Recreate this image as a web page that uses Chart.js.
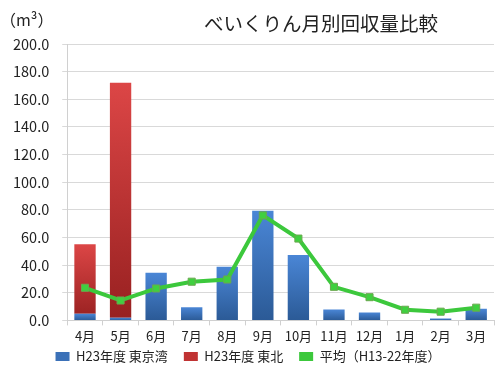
<!DOCTYPE html>
<html><head><meta charset="utf-8">
<script src="https://cdn.jsdelivr.net/npm/chart.js@4/dist/chart.umd.min.js"></script>
<style>html,body{margin:0;padding:0;background:#fff}#wrap{width:500px;height:369px}</style>
</head><body><div id="wrap"><canvas id="c" width="500" height="369"></canvas></div>
<script>
const categories = ['4月','5月','6月','7月','8月','9月','10月','11月','12月','1月','2月','3月'];
const tokyoBay = [4.8, 2.0, 34.4, 9.6, 38.8, 79.4, 47.4, 7.9, 5.8, 0, 1.4, 8.4];
const tohoku = [50.3, 170.0, 0, 0, 0, 0, 0, 0, 0, 0, 0, 0];
const average = [23.6, 14.4, 23.1, 28.0, 29.6, 76.0, 59.2, 24.3, 16.8, 7.7, 6.3, 9.2];
const yTicks = [0, 20, 40, 60, 80, 100, 120, 140, 160, 180, 200];
const FONT = '"Noto Sans CJK JP", "Noto Sans", sans-serif';
const LEGEND_PAD = 16;

function barGrad(ctx, c1, c2, fallback, topArr, baseArr) {
  const chart = ctx.chart;
  const ys = chart.scales && chart.scales.y;
  if (!chart.chartArea || !ys || ctx.dataIndex === undefined) return fallback;
  const i = ctx.dataIndex;
  const base = baseArr ? baseArr[i] : 0;
  const top = ys.getPixelForValue(base + topArr[i]);
  const bot = ys.getPixelForValue(0);
  if (!(bot - top > 1)) return fallback;
  const g = chart.ctx.createLinearGradient(0, top, 0, bot);
  g.addColorStop(0, c1); g.addColorStop(1, c2);
  return g;
}

const titlePlugin = {
  id: 'titles',
  afterDraw(chart) {
    const c = chart.ctx;
    c.save();
    c.fillStyle = '#222';
    c.textBaseline = 'middle';
    c.font = '19.5px ' + FONT;
    c.textAlign = 'center';
    c.fillText('べいくりん月別回収量比較', 321, 24);
    c.font = '16px ' + FONT;
    c.textAlign = 'left';
    c.fillText('（m³）', 0, 20);
    c.restore();
  }
};

const legendFix = {
  id: 'legendFix',
  afterInit(chart) {
    const lg = chart.legend;
    if (!lg) return;
    const f = lg.fit;
    lg.fit = function () { f.call(this); this.height = 22; };
  },
  afterLayout(chart) {
    const lg = chart.legend;
    if (!lg) return;
    lg.top -= (LEGEND_PAD - 3);
  }
};

new Chart(document.getElementById('c'), {
  data: {
    labels: categories,
    datasets: [
      { type: 'bar', label: 'H23年度 東京湾', data: tokyoBay, stack: 'a', order: 1,
        backgroundColor: ctx => barGrad(ctx, '#4a86d6', '#2b5a96', '#3b71b8', tokyoBay, null),
        borderWidth: 0, barPercentage: 0.6, categoryPercentage: 1 },
      { type: 'bar', label: 'H23年度 東北', data: tohoku, stack: 'a', order: 1,
        backgroundColor: ctx => barGrad(ctx, '#dc4646', '#972020', '#c03333', tohoku, tokyoBay),
        borderWidth: 0, barPercentage: 0.6, categoryPercentage: 1 },
      { type: 'line', label: '平均（H13-22年度）', data: average, stack: 'avg', order: 0,
        borderColor: '#3cc83c', backgroundColor: '#3cc83c', borderWidth: 4,
        pointStyle: 'rect', pointRadius: 5, pointBackgroundColor: '#3fd03f', pointBorderColor: '#6aa84f', pointBorderWidth: 1,
        tension: 0 }
    ]
  },
  options: {
    responsive: false,
    animation: false,
    layout: { padding: { left: 0, right: 4, top: 44, bottom: 0 } },
    scales: {
      x: {
        stacked: true,
        grid: { display: true, drawOnChartArea: false, offset: true, tickLength: 5, color: '#d0d0d0' },
        border: { color: '#d0d0d0' },
        ticks: { color: '#222', font: { family: FONT, size: 13 }, padding: 3, maxRotation: 0, autoSkip: false }
      },
      y: {
        stacked: true,
        min: 0, max: 200,
        afterBuildTicks(axis) { axis.ticks = yTicks.map(v => ({ value: v })); },
        grid: { color: '#d9d9d9', tickLength: 5 },
        border: { color: '#d0d0d0' },
        ticks: { color: '#222', font: { family: FONT, size: 14.5 }, padding: 13, callback: v => Number(v).toFixed(1) }
      }
    },
    plugins: {
      title: { display: false },
      tooltip: { enabled: false },
      legend: {
        position: 'bottom',
        labels: { font: { family: FONT, size: 13 }, color: '#222', boxWidth: 14, boxHeight: 9, padding: LEGEND_PAD,
          sort: (a, b) => a.datasetIndex - b.datasetIndex,
          generateLabels(chart) {
            const items = Chart.defaults.plugins.legend.labels.generateLabels(chart);
            items.forEach(it => {
              const ds = chart.data.datasets[it.datasetIndex];
              if (ds.type === 'bar') { it.fillStyle = it.datasetIndex === 0 ? '#3b71b8' : '#c03333'; it.strokeStyle = it.fillStyle; it.lineWidth = 0; }
              else { it.fillStyle = '#3cc83c'; it.strokeStyle = '#3cc83c'; it.lineWidth = 0; }
            });
            return items;
          }
        }
      }
    }
  },
  plugins: [titlePlugin, legendFix]
});
</script>
</body></html>
